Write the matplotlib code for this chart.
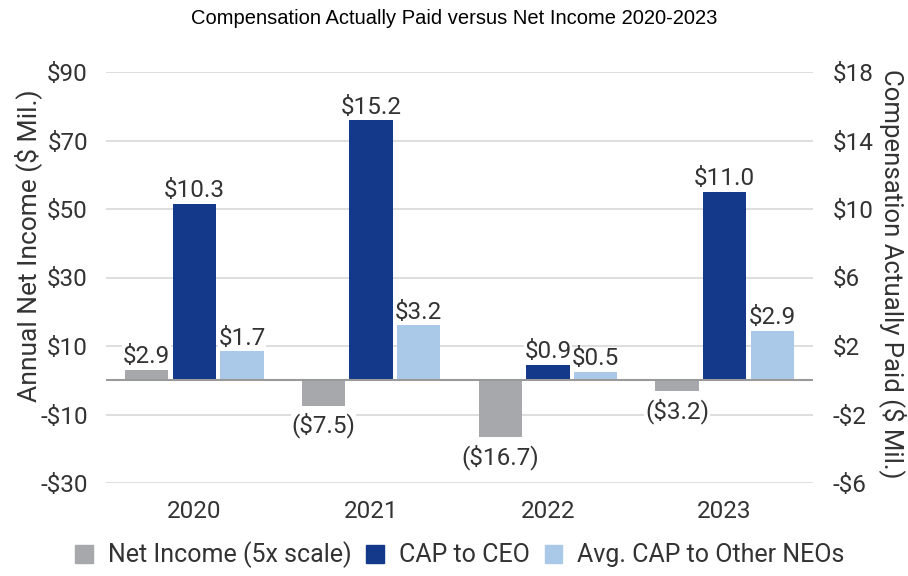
import numpy as np
import matplotlib.pyplot as plt
from matplotlib.patches import Patch

years = ["2020", "2021", "2022", "2023"]
net_income = [2.9, -7.5, -16.7, -3.2]
cap_ceo = [10.3, 15.2, 0.9, 11.0]
cap_neo = [1.7, 3.2, 0.5, 2.9]
left_ticks = [-30, -10, 10, 30, 50, 70, 90]
right_ticks = [-6, -2, 2, 6, 10, 14, 18]

c_gray = "#a7a8ab"
c_dark = "#15398a"
c_light = "#aac8e8"
txt = "#333333"
fs = 17.5

plt.rcParams['font.family'] = ['Roboto', 'DejaVu Sans']

fig = plt.figure(figsize=(9.08, 5.76), dpi=100)
ax = fig.add_axes([106/908, 1-483/576, (813-106)/908, (483-72)/576])
ax2 = ax.twinx()

x = np.arange(len(years))
w = 0.245
off = 0.27

ax.set_ylim(-30, 90)
ax2.set_ylim(-6, 18)
ax.set_xlim(-0.5, 3.5)


def tick_fmt(v):
    return ("-$%d" % -v) if v < 0 else ("$%d" % v)


ax.set_yticks(left_ticks)
ax.set_yticklabels([tick_fmt(v) for v in left_ticks])
ax2.set_yticks(right_ticks)
ax2.set_yticklabels([tick_fmt(v) for v in right_ticks])
ax.set_xticks(x)
ax.set_xticklabels(years)

ax.grid(axis='y', color='#d8d8d8', lw=1.2, zorder=0)
ax.set_axisbelow(True)
for a in (ax, ax2):
    for s in a.spines.values():
        s.set_visible(False)
    a.tick_params(length=0, labelsize=fs, colors=txt)
ax.tick_params(axis='y', pad=13)
ax2.tick_params(axis='y', pad=14)
ax.tick_params(axis='x', pad=12)

ax.bar(x - off, net_income, w, color=c_gray, zorder=2)
ax2.bar(x, cap_ceo, w, color=c_dark, zorder=2)
ax2.bar(x + off, cap_neo, w, color=c_light, zorder=2)
ax2.axhline(0, color='#9a9a9a', lw=1.5, zorder=3)


def money(v):
    return "($%.1f)" % -v if v < 0 else "$%.1f" % v


for xi, v in zip(x - off, net_income):
    if v >= 0:
        ax.annotate(money(v), (xi, v), xytext=(0, 2), textcoords='offset points',
                    ha='center', va='bottom', fontsize=fs, color=txt,
                    bbox=dict(fc='white', ec='none', pad=0.5))
    else:
        ax.annotate(money(v), (xi, v), xytext=(0, -5), textcoords='offset points',
                    ha='center', va='top', fontsize=fs, color=txt,
                    bbox=dict(fc='white', ec='none', pad=0.5))
for xs, vals in ((x, cap_ceo), (x + off, cap_neo)):
    for xi, v in zip(xs, vals):
        ax2.annotate(money(v), (xi, v), xytext=(0, 1), textcoords='offset points',
                     ha='center', va='bottom', fontsize=fs, color=txt,
                     bbox=dict(fc='white', ec='none', pad=0.1))

ax.set_ylabel("Annual Net Income ($ Mil.)", fontsize=19, color=txt)
ax.yaxis.label.set_va('center')
ax.yaxis.set_label_coords((28-106)/707, (483-246)/411)
ax2.set_ylabel("Compensation Actually Paid ($ Mil.)", fontsize=18.5, color=txt,
               rotation=270)
ax2.yaxis.label.set_va('center')
ax2.yaxis.set_label_coords((893-106)/707, (483-274)/411)

fig.suptitle("Compensation Actually Paid versus Net Income 2020-2023",
             y=1-18/576, va='center', fontsize=14.5,
             family=['Liberation Sans', 'DejaVu Sans'], color='black')

handles = [Patch(color=c_gray, label="Net Income (5x scale)"),
           Patch(color=c_dark, label="CAP to CEO"),
           Patch(color=c_light, label="Avg. CAP to Other NEOs")]
fig.legend(handles=handles, loc='center', bbox_to_anchor=(460/908, 1-555/576), ncol=3,
           frameon=False, fontsize=18, handlelength=0.7, handleheight=0.75,
           handletextpad=0.6, columnspacing=0.6, labelcolor=txt)

fig.savefig("out.png", dpi=100)
